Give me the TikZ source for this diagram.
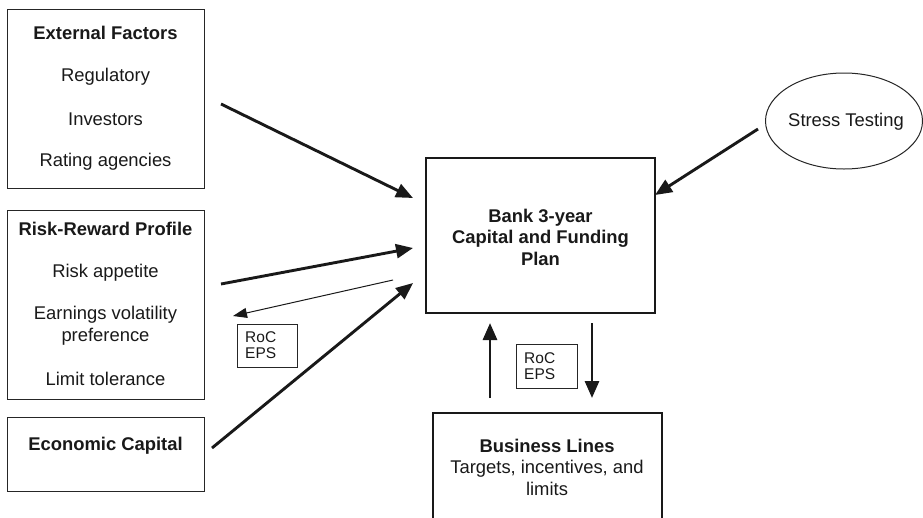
\documentclass[tikz,border=0pt]{standalone}
\usepackage{fontspec}
\setmainfont{Liberation Sans}
\usetikzlibrary{arrows.meta,shapes.geometric}
\begin{document}
\begin{tikzpicture}[x=1pt,y=-1pt,
  box/.style={draw=black!85,line width=1pt,rectangle,inner sep=0pt},
  bigbox/.style={draw=black!90,line width=2.4pt,rectangle,inner sep=0pt},
  txt/.style={font=\fontsize{18.4}{21.5}\selectfont,text=black!90,align=center,inner sep=0pt},
  btxt/.style={txt,font=\fontsize{18.4}{21.5}\selectfont\bfseries},
  stxt/.style={font=\fontsize{15.5}{19}\selectfont,text=black!90,align=left,inner sep=0pt,anchor=west},
  arr/.style={line width=2.9pt,draw=black!90,-{Triangle[length=17pt,width=14pt]}},
  thinarr/.style={line width=1pt,draw=black!90,-{Triangle[length=14pt,width=10pt]}}]
\useasboundingbox (0,0) rectangle (923,517);
\clip (0,0) rectangle (923,517);
% boxes
\node[box,minimum width=197pt,minimum height=179pt] (ext) at (105.5,98.5) {};
\node[btxt] (extt) at (105.5,33) {External Factors};
\node[txt] (ext1) at (105.5,77) {Regulatory};
\node[txt] (ext2) at (105.5,119) {Investors};
\node[txt] (ext3) at (105.5,162) {Rating agencies};

\node[box,minimum width=197pt,minimum height=189pt] (rr) at (105.5,304.5) {};
\node[btxt] (rrt) at (105.5,229) {Risk-Reward Profile};
\node[txt] (rr1) at (105.5,273) {Risk appetite};
\node[txt] (rr2) at (105.5,325.5) {Earnings volatility\\preference};
\node[txt] (rr3) at (105.5,379) {Limit tolerance};

\node[box,minimum width=197pt,minimum height=74pt] (ec) at (105.5,454) {};
\node[btxt] (ect) at (105.5,446) {Economic Capital};

\node[bigbox,minimum width=229pt,minimum height=155pt] (main) at (540.5,235.5) {};
\node[btxt] (maint) at (540.5,237) {Bank 3-year\\Capital and Funding\\Plan};

\node[bigbox,minimum width=229pt,minimum height=140pt] (bl) at (547.5,483) {};
\node[btxt] (blt) at (547,446) {Business Lines};
\node[txt] (bl1) at (547,478) {Targets, incentives, and\\limits};

\node[draw=black!85,line width=1pt,ellipse,minimum width=157pt,minimum height=96pt,inner sep=0pt] (st) at (844,121) {};
\node[txt] (stt) at (846,122) {Stress Testing};

\node[box,minimum width=60pt,minimum height=43pt] (roc1) at (267,345.5) {};
\node[stxt] (roc1t) at (245,345.5) {RoC\\[-3pt]EPS};
\node[box,minimum width=61pt,minimum height=44pt] (roc2) at (546.5,366) {};
\node[stxt] (roc2t) at (524,366) {RoC\\[-3pt]EPS};

% connector end points
\coordinate (a1s) at (221,104);
\coordinate (a1e) at (413,198);
\coordinate (a2s) at (221,284);
\coordinate (a2e) at (413,248);
\coordinate (a3s) at (393,280);
\coordinate (a3e) at (233,316);
\coordinate (a4s) at (212,448);
\coordinate (a4e) at (413,283);
\coordinate (a5s) at (758,129);
\coordinate (a5e) at (655,195);
\coordinate (a6s) at (490,398);
\coordinate (a6e) at (490,323);
\coordinate (a7s) at (592,323);
\coordinate (a7e) at (592,398);

\draw[arr] (a1s) -- (a1e);
\draw[arr] (a2s) -- (a2e);
\draw[thinarr] (a3s) -- (a3e);
\draw[arr] (a4s) -- (a4e);
\draw[arr] (a5s) -- (a5e);
\draw[arr] (a6s) -- (a6e);
\draw[arr] (a7s) -- (a7e);
\end{tikzpicture}
\end{document}
